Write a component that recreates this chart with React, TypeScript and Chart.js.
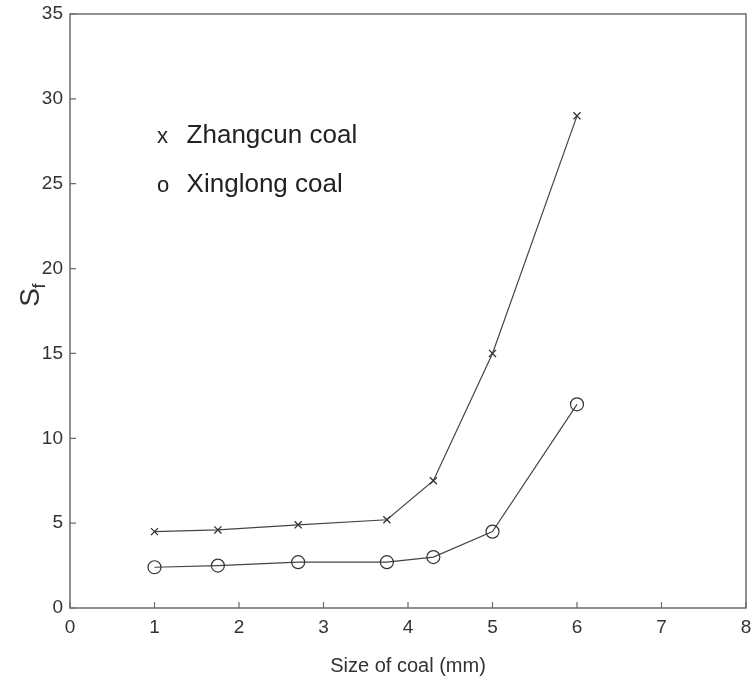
import React, { useEffect, useRef } from "react";
import { Chart, registerables } from "chart.js";
Chart.register(...registerables);

const zhangcunX = [1, 1.75, 2.7, 3.75, 4.3, 5, 6];
const zhangcunY = [4.5, 4.6, 4.9, 5.2, 7.5, 15, 29];
const xinglongX = [1, 1.75, 2.7, 3.75, 4.3, 5, 6];
const xinglongY = [2.4, 2.5, 2.7, 2.7, 3.0, 4.5, 12];
const xTicks = [0, 1, 2, 3, 4, 5, 6, 7, 8];
const yTicks = [0, 5, 10, 15, 20, 25, 30, 35];
const legendMarks = ["x", "o"];
const legendLabels = ["Zhangcun coal", "Xinglong coal"];
const xTitle = "Size of coal (mm)";

const FONT = "'Liberation Sans', Arial, Helvetica, sans-serif";

const decor = {
  id: "decor",
  afterDraw(chart: any) {
    const { ctx, chartArea: a, scales } = chart;
    const xs = scales.x, ys = scales.y;
    ctx.save();
    ctx.strokeStyle = "#6b6b6b";
    ctx.lineWidth = 1.5;
    ctx.strokeRect(a.left, a.top, a.right - a.left, a.bottom - a.top);
    ctx.lineWidth = 1.2;
    ctx.beginPath();
    xTicks.forEach((v) => {
      const p = xs.getPixelForValue(v);
      ctx.moveTo(p, a.bottom);
      ctx.lineTo(p, a.bottom - 6);
    });
    yTicks.forEach((v) => {
      const p = ys.getPixelForValue(v);
      ctx.moveTo(a.left, p);
      ctx.lineTo(a.left + 6, p);
    });
    ctx.stroke();
    // legend text
    ctx.fillStyle = "#222";
    ctx.textBaseline = "alphabetic";
    ctx.textAlign = "left";
    const rows = [27.4, 24.5];
    rows.forEach((yv, i) => {
      const by = ys.getPixelForValue(yv);
      ctx.font = `22px ${FONT}`;
      ctx.fillText(legendMarks[i], xs.getPixelForValue(1.03), by);
      ctx.font = `26px ${FONT}`;
      ctx.fillText(legendLabels[i], xs.getPixelForValue(1.38), by);
    });
    // x title
    ctx.font = `20px ${FONT}`;
    ctx.textAlign = "center";
    ctx.textBaseline = "middle";
    ctx.fillStyle = "#333";
    ctx.fillText(xTitle, (a.left + a.right) / 2, 666);
    // y title S_f
    ctx.translate(31, ys.getPixelForValue(18.3));
    ctx.rotate(-Math.PI / 2);
    ctx.font = `28px ${FONT}`;
    ctx.textAlign = "center";
    ctx.fillText("S", 0, 0);
    ctx.font = `18px ${FONT}`;
    ctx.textAlign = "left";
    ctx.fillText("f", 9, 9);
    ctx.restore();
  },
};

export default function App() {
  const ref = useRef<HTMLCanvasElement>(null);
  useEffect(() => {
    document.body.style.margin = "0";
    const chart = new Chart(ref.current!, {
      type: "scatter",
      data: {
        datasets: [
          {
            label: "Zhangcun coal",
            data: zhangcunX.map((x, i) => ({ x, y: zhangcunY[i] })),
            showLine: true,
            borderColor: "#444",
            borderWidth: 1.2,
            pointStyle: "crossRot",
            pointRadius: 5,
            pointBorderColor: "#333",
            pointBorderWidth: 1.3,
            backgroundColor: "transparent",
          },
          {
            label: "Xinglong coal",
            data: xinglongX.map((x, i) => ({ x, y: xinglongY[i] })),
            showLine: true,
            borderColor: "#444",
            borderWidth: 1.2,
            pointStyle: "circle",
            pointRadius: 6.5,
            pointBorderColor: "#333",
            pointBorderWidth: 1.2,
            pointBackgroundColor: "rgba(255,255,255,0)",
            backgroundColor: "transparent",
          },
        ],
      },
      options: {
        animation: false,
        responsive: false,
        layout: { padding: { top: 14, right: 8, left: 0, bottom: 0 } },
        plugins: { legend: { display: false }, tooltip: { enabled: false } },
        scales: {
          x: {
            type: "linear",
            min: 0,
            max: 8,
            afterBuildTicks: (s: any) => { s.ticks = xTicks.map((v) => ({ value: v })); },
            afterFit: (s: any) => { s.height = 77; s.paddingLeft = 0; s.paddingRight = 0; },
            grid: { display: false, drawTicks: false },
            border: { display: false },
            ticks: { color: "#333", font: { family: FONT, size: 19 }, padding: 8 },
          },
          y: {
            type: "linear",
            min: 0,
            max: 35,
            afterBuildTicks: (s: any) => { s.ticks = yTicks.map((v) => ({ value: v })); },
            afterFit: (s: any) => { s.width = 70; s.paddingTop = 0; s.paddingBottom = 0; },
            grid: { display: false, drawTicks: false },
            border: { display: false },
            ticks: { color: "#333", font: { family: FONT, size: 19 }, padding: 7 },
          },
        },
      },
      plugins: [decor],
    });
    return () => chart.destroy();
  }, []);
  return (
    <div style={{ width: 754, height: 685 }}>
      <canvas ref={ref} width={754} height={685} style={{ display: "block" }} />
    </div>
  );
}
